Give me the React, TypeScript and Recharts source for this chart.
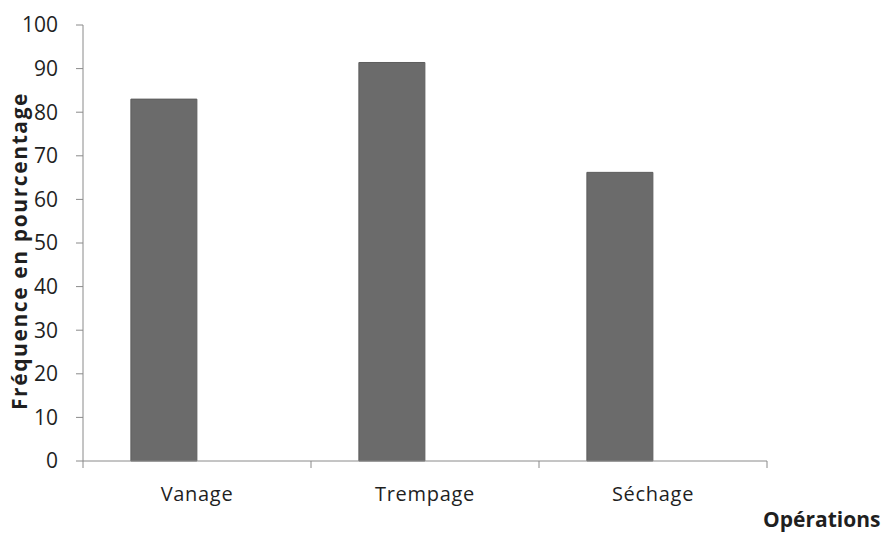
import React from "react";
import { BarChart, Bar, XAxis, YAxis, Label } from "recharts";

const operations = ["Vanage", "Trempage", "Séchage"];
const frequences = [83, 91.4, 66.2];
const yTicks = [0, 10, 20, 30, 40, 50, 60, 70, 80, 90, 100];

const data = operations.map((name, i) => ({ name, frequence: frequences[i] }));

const FONT = "'Open Sans', sans-serif";
const AXIS_COLOR = "#8a8a8a";

// eslint-disable-next-line @typescript-eslint/no-explicit-any
function CategoryTick({ x, y, payload, index }: any) {
  const half = payload?.offset || 114;
  const axisY = y - 26;
  return (
    <g>
      <line x1={x - half} y1={axisY} x2={x - half} y2={axisY + 7} stroke={AXIS_COLOR} />
      {index === operations.length - 1 && (
        <line x1={x + half} y1={axisY} x2={x + half} y2={axisY + 7} stroke={AXIS_COLOR} />
      )}
      <text x={x} y={y} dy="0.71em" textAnchor="middle" fontFamily={FONT} fontSize={20} letterSpacing={0.7} fill="#1f1f1f">
        {payload.value}
      </text>
    </g>
  );
}

// titre vertical de l'axe Y, centré un peu sous le milieu comme dans l'original
// eslint-disable-next-line @typescript-eslint/no-explicit-any
function YTitle({ viewBox }: any) {
  const cx = viewBox.x + 27;
  const cy = viewBox.y + viewBox.height / 2 + 8;
  return (
    <text
      x={cx}
      y={cy}
      transform={`rotate(-90, ${cx}, ${cy})`}
      textAnchor="middle"
      fontFamily={FONT}
      fontSize={21}
      fontWeight={700}
      letterSpacing={1.6}
      fill="#1f1f1f"
    >
      Fréquence en pourcentage
    </text>
  );
}

export default function App() {
  return (
    <div style={{ position: "absolute", left: 0, top: 0, width: 882, height: 537, background: "#fff" }}>
      <BarChart
        width={882}
        height={537}
        data={data}
        margin={{ top: 25, right: 115, bottom: 0, left: 0 }}
        barCategoryGap="21%"
        barGap={0}
      >
        <XAxis
          dataKey="name"
          height={76}
          stroke={AXIS_COLOR}
          tickLine={false}
          tickSize={0}
          tickMargin={26}
          tick={<CategoryTick />}
        >
          <Label
            value="Opérations"
            position="right"
            offset={-4}
            dy={21}
            style={{ fontFamily: FONT, fontSize: 21, fontWeight: 700, fill: "#1f1f1f" }}
          />
        </XAxis>
        <YAxis
          domain={[0, 100]}
          ticks={yTicks}
          width={83}
          stroke={AXIS_COLOR}
          tickSize={7}
          tickMargin={18}
          tick={{ fontFamily: FONT, fontSize: 21, fill: "#1f1f1f" }}
        >
          <Label content={<YTitle />} />
        </YAxis>
        <Bar dataKey="frequence" fill="#6b6b6b" stroke="#5e5e5e" isAnimationActive={false} />
        <Bar dataKey="vide" fill="#6b6b6b" isAnimationActive={false} />
      </BarChart>
    </div>
  );
}
